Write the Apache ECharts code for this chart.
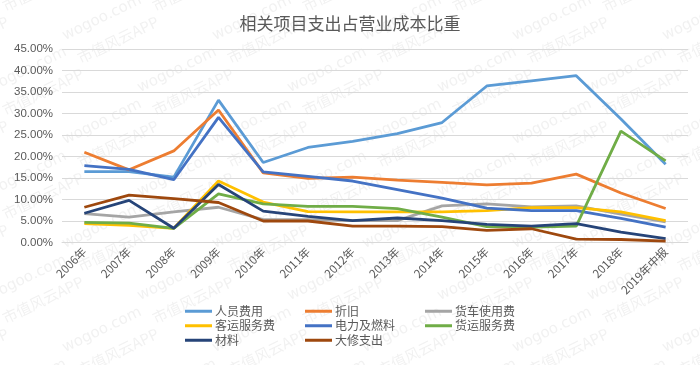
<!DOCTYPE html>
<html><head><meta charset="utf-8">
<script src="https://cdn.jsdelivr.net/npm/echarts@6/dist/echarts.min.js"></script>
<style>html,body{margin:0;padding:0;background:#fff}#c{width:700px;height:365px}</style>
</head><body><div id="c"></div>
<script>
const categories = ['2006年','2007年','2008年','2009年','2010年','2011年','2012年','2013年','2014年','2015年','2016年','2017年','2018年','2019年中报'];
const yTicks = [0,5,10,15,20,25,30,35,40,45];
const seriesNames = ['人员费用','折旧','货车使用费','客运服务费','电力及燃料','货运服务费','材料','大修支出'];
const renyuan   = [16.5,16.5,15.2,33.1,18.6,22.1,23.5,25.3,27.9,36.4,37.6,38.8,28.7,18.2];
const zhejiu    = [21.0,16.9,21.3,30.8,16.2,14.9,15.2,14.5,14.0,13.4,13.8,15.9,11.5,7.9];
const huoche    = [6.7,5.9,7.1,8.2,5.3,5.3,5.1,5.1,8.5,9.0,8.3,8.5,6.6,4.8];
const keyun     = [4.4,4.0,3.3,14.3,9.4,7.2,7.1,7.1,7.1,7.4,8.1,8.1,7.1,5.1];
const dianli    = [17.9,17.0,14.6,29.1,16.4,15.4,14.3,12.3,10.3,8.0,7.4,7.4,5.6,3.6];
const huoyun    = [4.7,4.5,3.3,11.3,9.0,8.4,8.4,7.9,5.9,3.7,3.6,3.8,25.9,19.0];
const cailiao   = [6.8,9.8,3.3,13.5,7.3,6.1,5.1,5.7,5.1,4.2,3.8,4.4,2.4,0.9];
const daxiu     = [8.2,11.0,10.2,9.3,5.0,5.0,3.8,3.8,3.7,2.8,3.2,0.8,0.7,0.3];
const seriesData = [renyuan, zhejiu, huoche, keyun, dianli, huoyun, cailiao, daxiu];
const colors = ['#5B9BD5','#ED7D31','#A5A5A5','#FFC000','#4472C4','#70AD47','#264478','#9E480E'];

const chart = echarts.init(document.getElementById('c'), null, {renderer:'canvas'});

// faint watermark texts
const wm = [];
for (let r = -1; r < 8; r++) {
  for (let c = -1; c < 6; c++) {
    const x = c * 150 + (r % 2) * 75;
    const y = r * 52;
    wm.push({type:'text', x:x, y:y, rotation: Math.PI/7, silent:true, z:-1,
      style:{text:'市值风云APP', fill:'rgba(120,120,120,0.10)', font:'15px "Noto Sans CJK SC"'}});
    wm.push({type:'text', x:x+ 60, y:y+30, rotation: Math.PI/7, silent:true, z:-1,
      style:{text:'wogoo.com', fill:'rgba(120,120,120,0.10)', font:'15px "DejaVu Sans"'}});
  }
}

chart.setOption({
  backgroundColor:'#fff',
  color: colors,
  animation:false,
  graphic: wm,
  title:{text:'相关项目支出占营业成本比重', left:'center', top:10,
    textStyle:{fontSize:17, fontWeight:'normal', color:'#595959', fontFamily:'"Noto Sans CJK SC"'}},
  grid:{left:62, right:12, top:49, bottom:122.5},
  legend:{
    data: seriesNames, left:180, top:299, width:372, orient:'horizontal',
    itemGap:0, icon:'rect', itemWidth:27, itemHeight:3,
    textStyle:{fontSize:12, color:'#595959', width:90, lineHeight:14.5, fontFamily:'"Noto Sans CJK SC"', padding:[0,0,0,-2]}
  },
  xAxis:{type:'category', data:categories, boundaryGap:true,
    axisLine:{lineStyle:{color:'#d9d9d9'}}, axisTick:{show:false},
    axisLabel:{rotate:45, fontSize:11.5, color:'#595959', interval:0, margin:7, fontFamily:'"Noto Sans CJK SC"'}},
  yAxis:{type:'value', min:yTicks[0], max:yTicks[yTicks.length-1], interval:5,
    axisLine:{show:false}, axisTick:{show:false},
    splitLine:{lineStyle:{color:'#d9d9d9'}},
    axisLabel:{formatter: v => v.toFixed(2)+'%', fontSize:11.5, color:'#595959', margin:9, fontFamily:'"Liberation Sans"'}},
  series: seriesNames.map((n,i)=>({
    name:n, type:'line', data:seriesData[i], symbol:'none', smooth:false,
    lineStyle:{width:2.8, color:colors[i]}, z:2+i
  }))
});
</script></body></html>
